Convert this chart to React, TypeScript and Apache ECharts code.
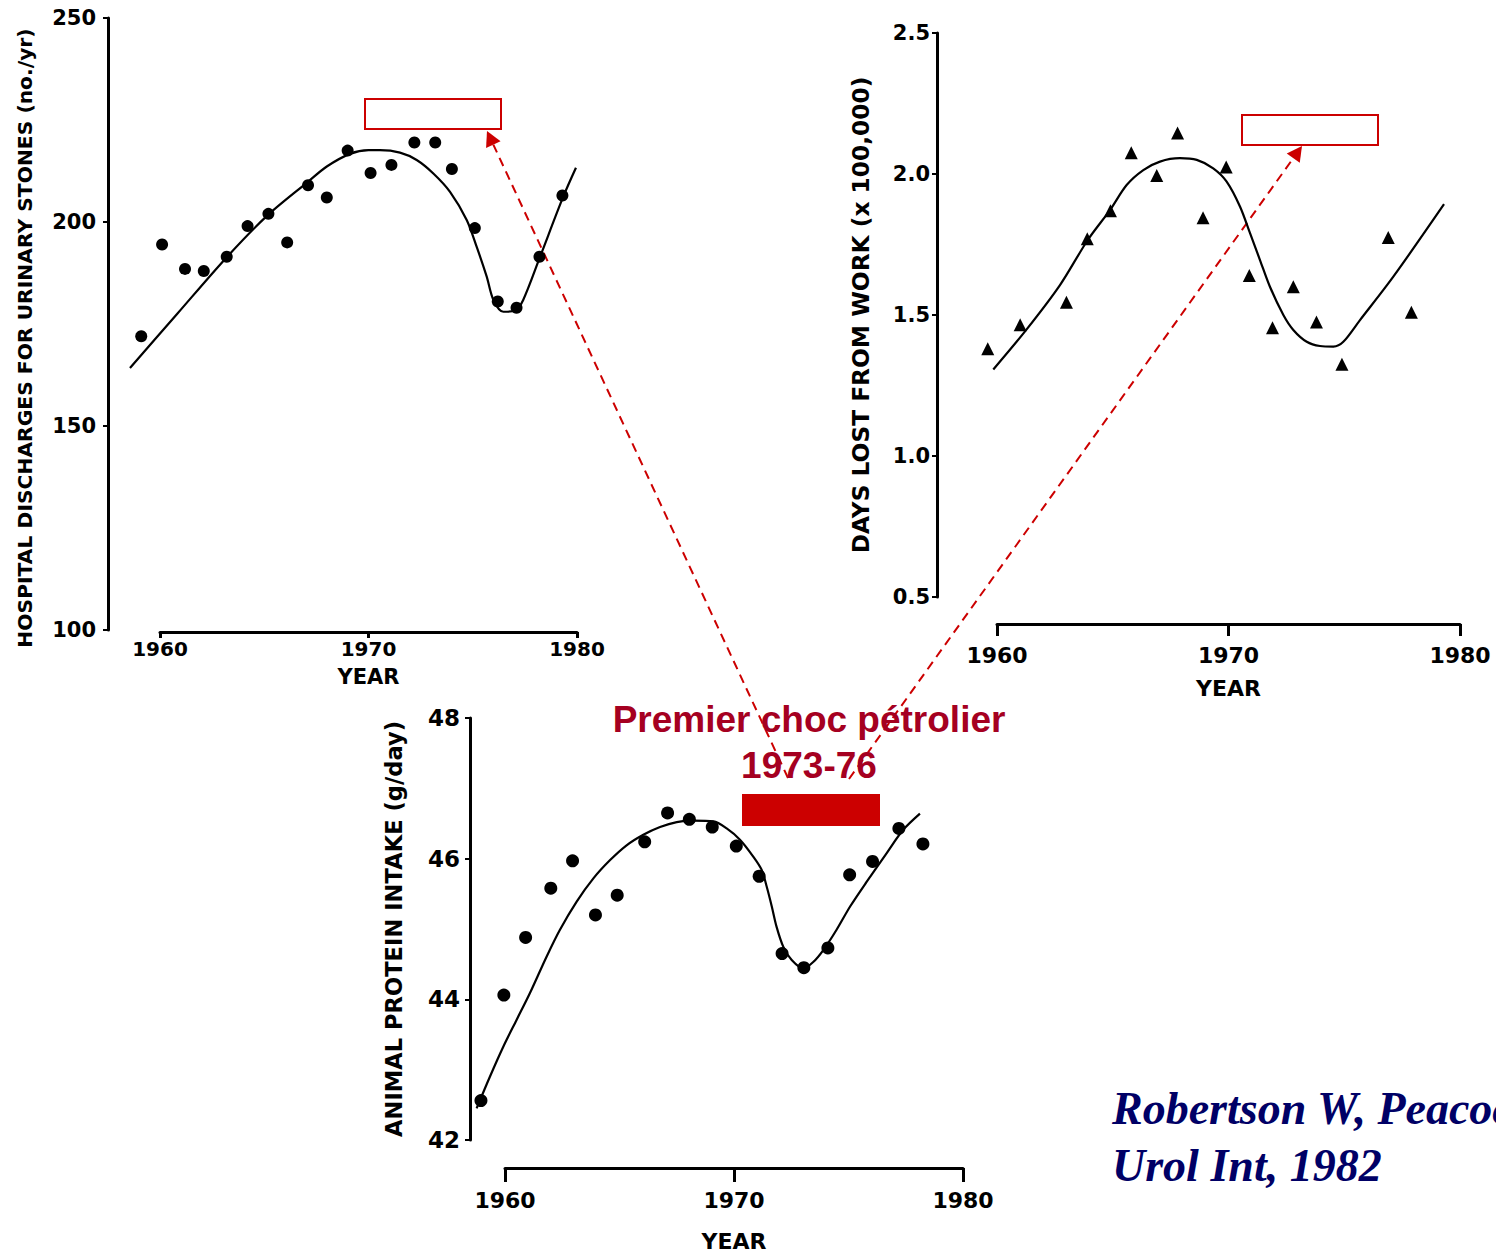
import React, { useEffect, useRef } from "react";
import * as echarts from "echarts";

// Panel 1: hospital discharges for urinary stones (no./yr)
const dischargeYears = [1959.1, 1960.1, 1961.2, 1962.1, 1963.2, 1964.2, 1965.2, 1966.1, 1967.1, 1968.0, 1969.0, 1970.1, 1971.1, 1972.2, 1973.2, 1974.0, 1975.1, 1976.2, 1977.1, 1978.2, 1979.3];
const dischargeValues = [172, 194.5, 188.5, 188, 191.5, 199, 202, 195, 209, 206, 217.5, 212, 214, 219.5, 219.5, 213, 198.5, 180.5, 179, 191.5, 206.5];
const dischargeFitYears = [1958.56, 1960.86, 1963.17, 1965.13, 1967.11, 1968.0, 1969.11, 1970.0, 1970.55, 1971.51, 1972.31, 1973.11, 1973.91, 1974.71, 1975.19, 1975.67, 1975.99, 1976.47, 1977.03, 1977.42, 1978.23, 1979.34, 1979.95];
const dischargeFitValues = [164.2, 177.7, 191.2, 201.5, 209.9, 213.6, 216.7, 217.6, 217.6, 217.0, 215.2, 211.9, 207.4, 200.5, 193.9, 186.6, 180.9, 178.0, 178.3, 180.9, 191.5, 206.2, 213.3];

// Panel 2: days lost from work (x 100,000)
const daysYears = [1959.6, 1961.0, 1963.0, 1963.9, 1964.9, 1965.8, 1966.9, 1967.8, 1968.9, 1969.9, 1970.9, 1971.9, 1972.8, 1973.8, 1974.9, 1976.9, 1977.9];
const daysValues = [1.38, 1.465, 1.545, 1.77, 1.87, 2.075, 1.995, 2.145, 1.845, 2.025, 1.64, 1.455, 1.6, 1.475, 1.325, 1.775, 1.51];
const daysFitYears = [1959.84, 1961.28, 1962.72, 1963.92, 1964.88, 1965.6, 1966.32, 1967.04, 1967.9, 1968.63, 1969.34, 1969.92, 1970.5, 1970.93, 1971.36, 1971.79, 1972.37, 1972.8, 1973.38, 1973.95, 1974.53, 1974.96, 1975.68, 1977.12, 1979.31];
const daysFitValues = [1.307, 1.449, 1.606, 1.766, 1.872, 1.961, 2.014, 2.044, 2.056, 2.05, 2.02, 1.973, 1.884, 1.79, 1.695, 1.6, 1.5, 1.447, 1.405, 1.39, 1.388, 1.405, 1.482, 1.636, 1.893];

// Panel 3: animal protein intake (g/day)
const proteinYears = [1958.95, 1959.95, 1960.9, 1962.0, 1962.95, 1963.95, 1964.9, 1966.1, 1967.1, 1968.05, 1969.05, 1970.1, 1971.1, 1972.1, 1973.05, 1974.1, 1975.05, 1976.05, 1977.2, 1978.25];
const proteinValues = [42.56, 44.06, 44.88, 45.58, 45.97, 45.2, 45.48, 46.24, 46.65, 46.56, 46.45, 46.18, 45.75, 44.65, 44.45, 44.73, 45.77, 45.96, 46.43, 46.21];
const proteinFitYears = [1958.76, 1959.34, 1959.93, 1960.51, 1961.09, 1961.82, 1962.4, 1963.13, 1963.86, 1964.59, 1965.31, 1966.04, 1966.77, 1967.5, 1968.22, 1969.1, 1969.68, 1970.26, 1970.84, 1971.21, 1971.43, 1971.65, 1971.86, 1972.15, 1972.52, 1973.03, 1973.46, 1973.9, 1974.48, 1975.07, 1975.79, 1976.67, 1977.39, 1978.12];
const proteinFitValues = [42.45, 42.9, 43.33, 43.71, 44.09, 44.61, 44.99, 45.39, 45.72, 45.98, 46.19, 46.34, 46.45, 46.52, 46.54, 46.53, 46.43, 46.27, 46.03, 45.84, 45.6, 45.32, 45.03, 44.75, 44.56, 44.44, 44.53, 44.7, 44.99, 45.32, 45.67, 46.08, 46.41, 46.64];

const yearTicks = [1960, 1970, 1980];
const yNames = [
  "HOSPITAL DISCHARGES FOR URINARY STONES (no./yr)",
  "DAYS LOST FROM WORK (x 100,000)",
  "ANIMAL PROTEIN INTAKE (g/day)",
];
const xName = "YEAR";
const titleLines = ["Premier choc pétrolier", "1973-76"];
const citationLines = ["Robertson W, Peacock M", "Urol Int, 1982"];

const zip = (xs: number[], ys: number[]) => xs.map((x, i) => [x, ys[i]]);

const FONT = "DejaVu Sans";
const RED = "#cc0000";
const DATA_XMIN = 1957;
const DATA_XMAX = 1981;

function arrow(x1: number, y1: number, x2: number, y2: number, headLen: number, headHalf: number) {
  const dx = x2 - x1;
  const dy = y2 - y1;
  const len = Math.sqrt(dx * dx + dy * dy);
  const ux = dx / len;
  const uy = dy / len;
  const bx = x2 - ux * headLen;
  const by = y2 - uy * headLen;
  const nx = -uy;
  const ny = ux;
  return [
    {
      type: "line",
      shape: { x1, y1, x2: bx, y2: by },
      style: { stroke: RED, lineWidth: 2, lineDash: [9, 6] },
      silent: true,
    },
    {
      type: "polygon",
      shape: {
        points: [
          [x2, y2],
          [bx + nx * headHalf, by + ny * headHalf],
          [bx - nx * headHalf, by - ny * headHalf],
        ],
      },
      style: { fill: RED },
      silent: true,
    },
  ];
}

export default function App() {
  const ref = useRef<HTMLDivElement>(null);

  useEffect(() => {
    if (!ref.current) return;
    const chart = echarts.init(ref.current, null, { renderer: "svg" });

    // axis frames: x spans 1960..1980
    const frames = [
      { left: 160, top: 18, width: 417, height: 612 },
      { left: 997, top: 33, width: 463, height: 564 },
      { left: 505, top: 718, width: 458, height: 422 },
    ];
    const xMin = yearTicks[0];
    const xMax = yearTicks[yearTicks.length - 1];
    // data grids: same scale, wider year range so early/late points are not clipped
    const dataFrames = frames.map((f) => {
      const s = f.width / (xMax - xMin);
      return {
        left: f.left - (xMin - DATA_XMIN) * s,
        top: f.top,
        width: (DATA_XMAX - DATA_XMIN) * s,
        height: f.height,
      };
    });

    const xCfg = [
      { offset: 2, tick: 6, margin: 7, size: 20, nameGap: 34, nameSize: 21 },
      { offset: 27, tick: 12, margin: 20, size: 22, nameGap: 53, nameSize: 22 },
      { offset: 28, tick: 14, margin: 21, size: 22, nameGap: 62, nameSize: 22 },
    ];
    const yCfg = [
      { min: 100, max: 250, interval: 50, offset: 52, margin: 12, size: 21, nameGap: 73, nameSize: 20.3, dec: 0, pad: [0, 28, 0, 0] },
      { min: 0.5, max: 2.5, interval: 0.5, offset: 60, margin: 7, size: 21, nameGap: 65, nameSize: 23.3, dec: 1, pad: [0, 0, 0, 0] },
      { min: 42, max: 48, interval: 2, offset: 35, margin: 10, size: 23, nameGap: 65, nameSize: 22.6, dec: 0, pad: [0, 0, 0, 0] },
    ];

    const grid = [...frames, ...dataFrames].map((g) => ({ ...g, containLabel: false, outerBoundsMode: "none" }));

    const xAxis: any[] = xCfg.map((c, i) => ({
      type: "value",
      gridIndex: i,
      min: xMin,
      max: xMax,
      interval: 10,
      position: "bottom",
      offset: c.offset,
      name: xName,
      nameLocation: "middle",
      nameGap: c.nameGap,
      nameTextStyle: { fontFamily: FONT, fontWeight: "bold", fontSize: c.nameSize, color: "#000" },
      axisLine: { show: true, lineStyle: { color: "#000", width: 3 } },
      axisTick: { show: true, length: c.tick, lineStyle: { color: "#000", width: 3 } },
      axisLabel: {
        fontFamily: FONT,
        fontWeight: "bold",
        fontSize: c.size,
        color: "#000",
        margin: c.margin,
        formatter: (v: number) => String(v),
      },
      splitLine: { show: false },
    }));
    const yAxis: any[] = yCfg.map((c, i) => ({
      type: "value",
      gridIndex: i,
      min: c.min,
      max: c.max,
      interval: c.interval,
      position: "left",
      offset: c.offset,
      name: yNames[i],
      nameLocation: "middle",
      nameGap: c.nameGap,
      nameTextStyle: { fontFamily: FONT, fontWeight: "bold", fontSize: c.nameSize, color: "#000", padding: c.pad },
      axisLine: { show: true, lineStyle: { color: "#000", width: 3 } },
      axisTick: { show: true, length: 5, lineStyle: { color: "#000", width: 2 } },
      axisLabel: {
        fontFamily: FONT,
        fontWeight: "bold",
        fontSize: c.size,
        color: "#000",
        margin: c.margin,
        formatter: (v: number) => v.toFixed(c.dec),
      },
      splitLine: { show: false },
    }));
    // hidden data axes
    yCfg.forEach((c, i) => {
      xAxis.push({ type: "value", gridIndex: 3 + i, min: DATA_XMIN, max: DATA_XMAX, show: false });
      yAxis.push({ type: "value", gridIndex: 3 + i, min: c.min, max: c.max, show: false });
    });

    const fitLine = (i: number, data: number[][]) => ({
      type: "line",
      xAxisIndex: 3 + i,
      yAxisIndex: 3 + i,
      data,
      smooth: 0.3,
      showSymbol: false,
      symbol: "none",
      clip: false,
      lineStyle: { color: "#000", width: 2.2 },
      z: 2,
      silent: true,
    });
    const points = (i: number, data: number[][], symbol: string, size: number) => ({
      type: "scatter",
      xAxisIndex: 3 + i,
      yAxisIndex: 3 + i,
      data,
      symbol,
      symbolSize: size,
      clip: false,
      itemStyle: { color: "#000", opacity: 1 },
      z: 3,
      silent: true,
    });

    const titleFont = "bold 37px 'Liberation Sans', Arial, sans-serif";
    const citeFont = "italic bold 46px 'Liberation Serif', 'Times New Roman', serif";
    const graphic: any[] = [
      { type: "rect", shape: { x: 365, y: 99, width: 136, height: 30 }, style: { fill: "none", stroke: RED, lineWidth: 2 } },
      { type: "rect", shape: { x: 1242, y: 115, width: 136, height: 30 }, style: { fill: "none", stroke: RED, lineWidth: 2 } },
      { type: "rect", shape: { x: 742, y: 794, width: 138, height: 32 }, style: { fill: RED } },
      ...arrow(788, 778, 487, 131, 15, 8),
      ...arrow(849, 779, 1302, 146, 15, 8),
      ...titleLines.map((t, k) => ({
        type: "text",
        x: 809,
        y: 719 + k * 46,
        style: { text: t, fill: "#a50021", font: titleFont, textAlign: "center", textVerticalAlign: "middle" },
      })),
      ...citationLines.map((t, k) => ({
        type: "text",
        x: 1112,
        y: 1108 + k * 57,
        style: { text: t, fill: "#000066", font: citeFont, textAlign: "left", textVerticalAlign: "middle" },
      })),
    ];

    chart.setOption({
      animation: false,
      backgroundColor: "#ffffff",
      grid,
      xAxis,
      yAxis,
      series: [
        fitLine(0, zip(dischargeFitYears, dischargeFitValues)),
        points(0, zip(dischargeYears, dischargeValues), "circle", 12),
        fitLine(1, zip(daysFitYears, daysFitValues)),
        points(1, zip(daysYears, daysValues), "triangle", 13),
        fitLine(2, zip(proteinFitYears, proteinFitValues)),
        points(2, zip(proteinYears, proteinValues), "circle", 13),
      ],
      graphic,
    });

    return () => {
      chart.dispose();
    };
  }, []);

  return (
    <div
      ref={ref}
      style={{ position: "absolute", left: 0, top: 0, width: 1496, height: 1252, overflow: "hidden" }}
    />
  );
}
